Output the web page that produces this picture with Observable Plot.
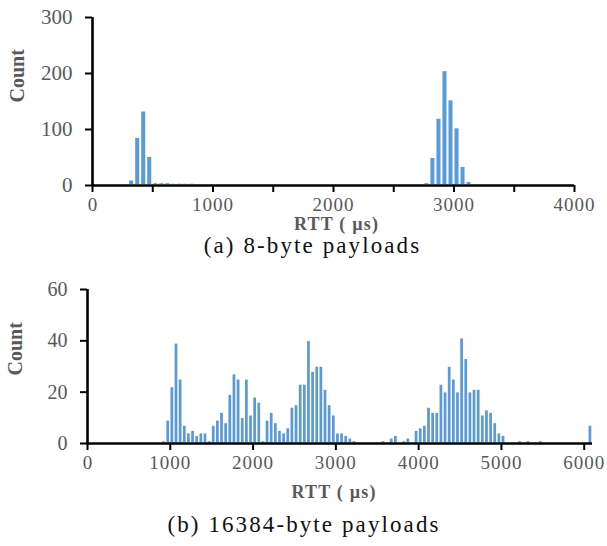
<!DOCTYPE html>
<html><head><meta charset="utf-8">
<script src="https://cdn.jsdelivr.net/npm/d3@7"></script>
<script src="https://cdn.jsdelivr.net/npm/@observablehq/plot@0.6"></script>
<style>
body{margin:0;background:#fff;}
#wrap{position:relative;width:607px;height:546px;overflow:hidden;}
#wrap svg{position:absolute;left:0;}
</style></head><body><div id="wrap"></div>
<script>
const binWidth = 50;

// (a) 8-byte payloads: bin start (µs) and count
const smallBinStart = [300,350,400,450,500,550,600,650,700,750,800,1050,1100,1350,1450,1600,1650,1850,1950,2050,2100,2250,2300,2350,2400,2450,2500,2550,2700,2750,2800,2850,2900,2950,3000,3050,3100,3250];
const smallCounts   = [10,86,133,52,5,5,5,4,4,4,4,3,3,2,2,3,3,3,3,3,3,3,3,3,3,3,3,3,2,5,50,120,205,153,103,34,7,2];

// (b) 16384-byte payloads
const largeBinStart = [900,950,1000,1050,1100,1150,1200,1250,1300,1350,1400,1450,1500,1550,1600,1650,1700,1750,1800,1850,1900,1950,2000,2050,2100,2150,2200,2250,2300,2350,2400,2450,2500,2550,2600,2650,2700,2750,2800,2850,2900,2950,3000,3050,3100,3150,3200,3550,3650,3700,3800,3850,3950,4000,4050,4100,4150,4200,4250,4300,4350,4400,4450,4500,4550,4600,4650,4700,4750,4800,4850,4900,4950,5000,5200,5300,5450,6050];
const largeCounts   = [1,9,22,39,25,7,4,5,3,4,4,1,7,9,12,8,19,27,25,10,25,11,18,16,1,9,12,8,5,4,6,14,15,23,23,40,28,30,30,21,15,11,4,4,3,2,1,1,2,3,1,2,5,6,7,14,12,12,23,20,30,25,20,41,33,20,21,21,11,13,12,8,4,3,1,1,1,7];

const smallXTicks = [0,500,1000,1500,2000,2500,3000,3500,4000];
const smallYTicks = [0,100,200,300];
const largeXTicks = [0,1000,2000,3000,4000,5000,6000];
const largeYTicks = [0,20,40,60];
const captions = ["(a) 8-byte payloads", "(b) 16384-byte payloads"];
const xTitle = "RTT ( µs)";
const yTitle = "Count";

const FONT = "'Liberation Serif', 'Times New Roman', serif";
const BAR = "#5b9bd5";
const GREY = "#595959";

function chart(c) {
  const data = c.starts.map((s, i) => ({x1: s, x2: s + binWidth, y: c.counts[i]}));
  const svg = Plot.plot({
    width: 607, height: c.height,
    marginTop: c.mt, marginBottom: c.mb, marginLeft: c.ml, marginRight: c.mr,
    style: {fontFamily: FONT, background: "white", overflow: "visible"},
    x: {domain: c.xDomain},
    y: {domain: c.yDomain},
    marks: [
      Plot.rectY(data, {x1: "x1", x2: "x2", y: "y", fill: BAR, inset: c.inset}),
      Plot.axisX({ticks: c.xTicks, label: null, tickSize: 7, tickPadding: 5, stroke: "black", strokeWidth: 2, fill: GREY, fontSize: c.xfs,
        tickFormat: d => d % 1000 === 0 ? String(d) : ""}),
      Plot.axisY({ticks: c.yTicks, label: null, tickSize: 7, tickPadding: 13, stroke: "black", strokeWidth: 2, fill: GREY, fontSize: c.yfs, tickFormat: d => String(d)}),
      Plot.ruleY([0], {stroke: "black", strokeWidth: 2.6}),
      Plot.ruleX([c.xDomain[0]], {stroke: "black", strokeWidth: 2.6}),
      Plot.text([xTitle], {frameAnchor: "bottom", lineAnchor: "middle", dy: c.xtDy, dx: c.xtDx, fontSize: 18, fontWeight: "bold", fill: GREY}),
      Plot.text([yTitle], {frameAnchor: "left", lineAnchor: "middle", dx: c.ytDx, dy: c.ytDy, rotate: -90, fontSize: 20, fontWeight: "bold", fill: GREY}),
      Plot.text([c.caption], {frameAnchor: "bottom", lineAnchor: "middle", dy: c.capDy, dx: c.capDx, fontSize: 23, fill: "#111"})
    ]
  });
  svg.style.top = c.top + "px";
  d3.select(svg).selectAll("text").each(function() {
    const t = this.textContent;
    if (t === c.caption) this.style.letterSpacing = "2.1px";
    else if (t === xTitle) this.style.letterSpacing = "1.2px";
    else if (/^\d{4}$/.test(t)) this.style.letterSpacing = "1px";
  });
  return svg;
}

const wrap = document.getElementById("wrap");
wrap.appendChild(chart({
  starts: smallBinStart, counts: smallCounts, height: 262, top: 0,
  mt: 17, mb: 77, ml: 92, mr: 33, xDomain: [0, 4000], yDomain: [0, 300],
  xTicks: smallXTicks, yTicks: smallYTicks, inset: 1, xfs: 19, yfs: 21,
  xtDy: 39, xtDx: 3, ytDx: -75, ytDy: 1, caption: captions[0], capDy: 60, capDx: -21
}));
wrap.appendChild(chart({
  starts: largeBinStart, counts: largeCounts, height: 284, top: 262,
  mt: 27, mb: 103, ml: 87, mr: 15, xDomain: [0, 6100], yDomain: [0, 60],
  xTicks: largeXTicks, yTicks: largeYTicks, inset: 0.7, xfs: 19, yfs: 20,
  xtDy: 49, xtDx: -6, ytDx: -72, ytDy: 9, caption: captions[1], capDy: 81, capDx: -36
}));
</script></body></html>
